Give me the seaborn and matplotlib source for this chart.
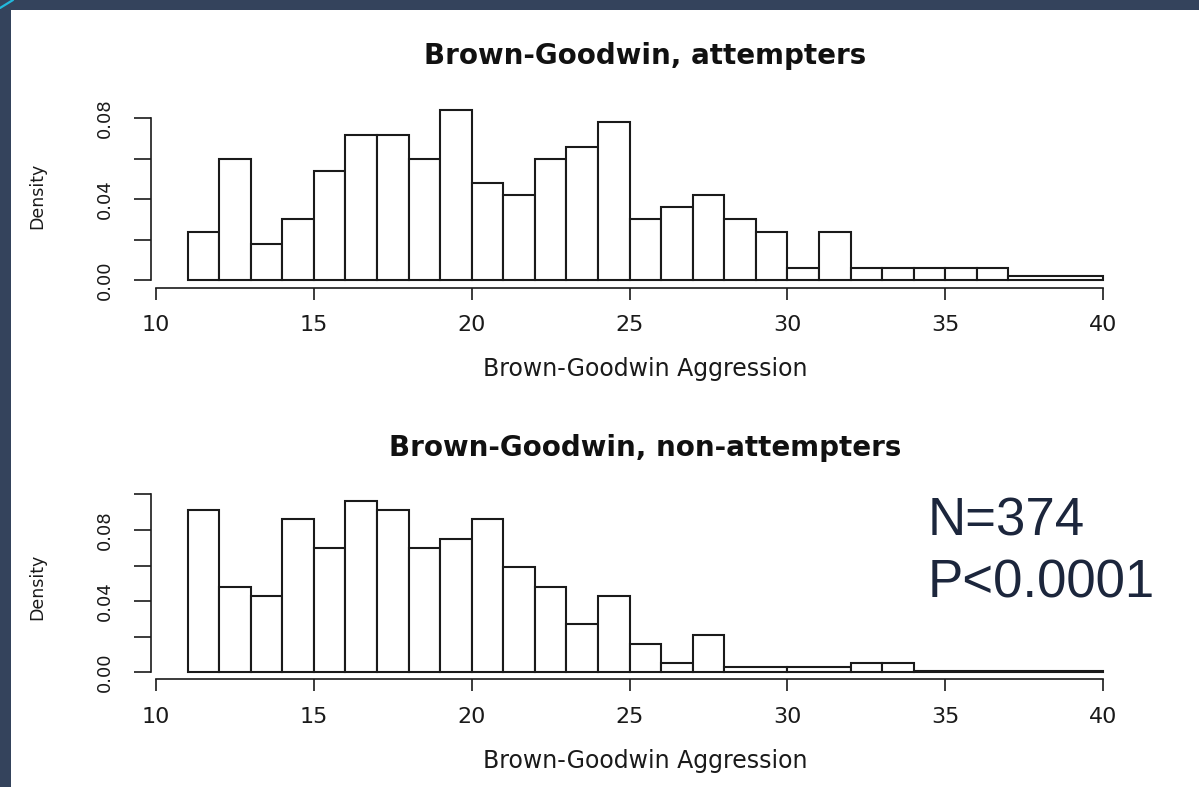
import numpy as np
import pandas as pd
import matplotlib
matplotlib.use("Agg")
import matplotlib.pyplot as plt
from matplotlib.patches import Rectangle
from matplotlib.lines import Line2D
import seaborn as sns

# ---------------- data ----------------
top_title = "Brown-Goodwin, attempters"
bottom_title = "Brown-Goodwin, non-attempters"
x_label = "Brown-Goodwin Aggression"
y_label = "Density"

top_edges = [11, 12, 13, 14, 15, 16, 17, 18, 19, 20, 21, 22, 23, 24, 25, 26, 27,
             28, 29, 30, 31, 32, 33, 34, 35, 36, 37, 40]
top_density = [0.024, 0.060, 0.018, 0.030, 0.054, 0.072, 0.072, 0.060, 0.084,
               0.048, 0.042, 0.060, 0.066, 0.078, 0.030, 0.036, 0.042, 0.030,
               0.024, 0.006, 0.024, 0.006, 0.006, 0.006, 0.006, 0.006, 0.002]

bottom_edges = [11, 12, 13, 14, 15, 16, 17, 18, 19, 20, 21, 22, 23, 24, 25, 26,
                27, 28, 30, 32, 33, 34, 40]
bottom_density = [0.091, 0.048, 0.043, 0.086, 0.070, 0.096, 0.091, 0.070, 0.075,
                  0.086, 0.059, 0.048, 0.027, 0.043, 0.016, 0.005, 0.021, 0.0027,
                  0.0027, 0.0054, 0.0054, 0.0009]

x_ticks = [10, 15, 20, 25, 30, 35, 40]
x_ticklabels = ["10", "15", "20", "25", "30", "35", "40"]
top_yticks = [0.00, 0.02, 0.04, 0.06, 0.08]
top_yticklabels = ["0.00", "", "0.04", "", "0.08"]
bottom_yticks = [0.00, 0.02, 0.04, 0.06, 0.08, 0.10]
bottom_yticklabels = ["0.00", "", "0.04", "", "0.08", ""]

note_lines = ["N=374", "P<0.0001"]

# ---------------- style ----------------
sns.set_theme(style="white")
plt.rcParams["font.family"] = ["DejaVu Sans"]

W, H = 1199, 787
fig = plt.figure(figsize=(W / 100, H / 100), dpi=100)
fig.patch.set_facecolor("#34435c")

# white slide area
fig.patches.append(Rectangle((11 / W, 0), 1 - 11 / W, 1 - 10 / H,
                             transform=fig.transFigure, facecolor="white",
                             edgecolor="none", zorder=-5))
fig.add_artist(Line2D([0, 13 / W], [1 - 8 / H, 1], transform=fig.transFigure,
                      color="#22b8dc", lw=1.6, zorder=-4))


def px_axes(left, right, top, bottom):
    return [left / W, 1 - bottom / H, (right - left) / W, (bottom - top) / H]


def draw_panel(ax, edges, dens, title, yticks, yticklabels, ylim, title_y):
    edges = np.asarray(edges, dtype=float)
    df = pd.DataFrame({"score": (edges[:-1] + edges[1:]) / 2,
                       "density": np.asarray(dens, dtype=float)})
    sns.histplot(data=df, x="score", weights="density", bins=list(edges),
                 stat="count", facecolor="white", edgecolor="#1a1a1a",
                 linewidth=1.5, alpha=1, ax=ax)
    ax.set_facecolor("white")
    ax.set_xlim(9.84, 41.16)
    ax.set_ylim(*ylim)
    for s in ["top", "right"]:
        ax.spines[s].set_visible(False)
    for s in ["left", "bottom"]:
        ax.spines[s].set_color("#1a1a1a")
        ax.spines[s].set_linewidth(1.2)
    ax.spines["bottom"].set_bounds(10, 40)
    ax.spines["left"].set_bounds(yticks[0], yticks[-1])
    ax.set_xticks(x_ticks)
    ax.set_xticklabels(x_ticklabels, fontsize=16)
    ax.set_yticks(yticks)
    ax.set_yticklabels(yticklabels, fontsize=13, rotation=90, va="center")
    ax.tick_params(axis="x", direction="out", length=8.6, width=1.2,
                   color="#1a1a1a", pad=11, bottom=True, labelcolor="#1a1a1a")
    ax.tick_params(axis="y", direction="out", length=12, width=1.2,
                   color="#1a1a1a", pad=15, left=True, labelcolor="#1a1a1a")
    ax.set_xlabel(x_label, fontsize=17, color="#1a1a1a")
    ax.set_ylabel(y_label, fontsize=12.5, color="#1a1a1a")
    ax.xaxis.set_label_coords(0.5, -0.375)
    ax.yaxis.set_label_coords(-0.106, 0.5)
    ax.set_title(title, fontsize=20, fontweight="bold", y=title_y, pad=0,
                 color="#111111")


ax1 = fig.add_axes(px_axes(150.95, 1139.7, 103.4, 288))
draw_panel(ax1, top_edges, top_density, top_title, top_yticks,
           top_yticklabels, (-0.00396, 0.0874), 1.215)

ax2 = fig.add_axes(px_axes(150.95, 1139.7, 493.6, 679.3))
draw_panel(ax2, bottom_edges, bottom_density, bottom_title, bottom_yticks,
           bottom_yticklabels, (-0.00393, 0.1004), 1.20)

fig.text(928 / W, 1 - 535 / H, note_lines[0], fontsize=38,
         family=["Liberation Sans", "DejaVu Sans"], color="#1c263c",
         va="baseline", ha="left")
fig.text(928 / W, 1 - 598 / H, note_lines[1], fontsize=38,
         family=["Liberation Sans", "DejaVu Sans"], color="#1c263c",
         va="baseline", ha="left")

fig.savefig("out.png", dpi=100, facecolor=fig.get_facecolor())
